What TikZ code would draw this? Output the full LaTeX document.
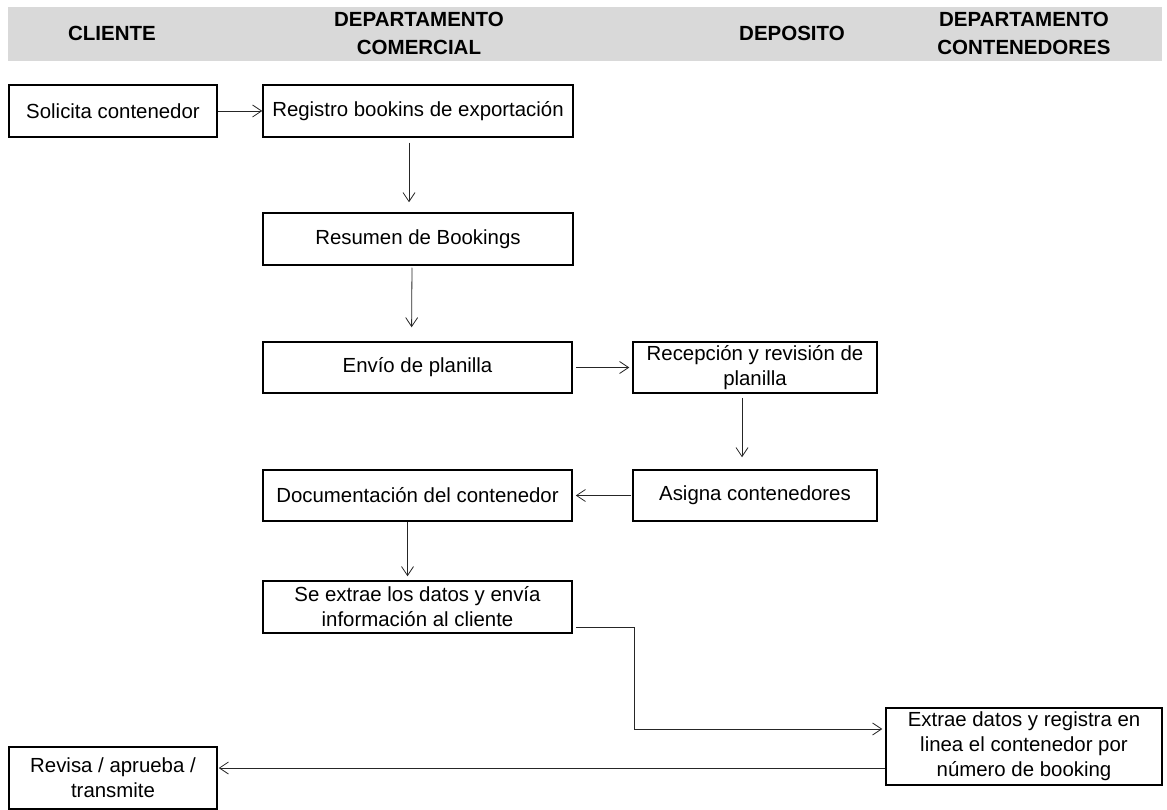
\documentclass[tikz,border=0pt]{standalone}
\usepackage{fontspec}
\setmainfont{Liberation Sans}
\usetikzlibrary{arrows.meta}
\definecolor{bandgray}{HTML}{D9D9D9}
\begin{document}
\begin{tikzpicture}[x=1pt,y=-1pt,
  box/.style={draw=black, line width=1.5pt, rectangle, inner sep=0pt,
    align=center, font=\fontsize{20.4}{25}\selectfont},
  head/.style={align=center, font=\fontsize{20.5}{28}\selectfont\bfseries},
  arr/.style={draw=black!85, line width=0.8pt,
    -{Straight Barb[length=9pt,width=12pt,line width=0.8pt]}},
]
\useasboundingbox (0,0) rectangle (1167,810);

% header band with the lane titles
\fill[bandgray] (8,7) rectangle (1162,61);
\node[head] (hcli) at (112,33) {CLIENTE};
\node[head] (hcom) at (419,33) {DEPARTAMENTO\\COMERCIAL};
\node[head] (hdep) at (792,33) {DEPOSITO};
\node[head] (hcon) at (1024,33) {DEPARTAMENTO\\CONTENEDORES};

% process steps
\node[box, minimum width=208pt, minimum height=52pt] (sol) at (113,111) {Solicita contenedor};
\node[box, minimum width=310pt, minimum height=52pt] (reg) at (418,111) {Registro bookins de exportación};
\node[box, minimum width=310pt, minimum height=52pt] (res) at (418,239) {Resumen de Bookings};
\node[box, minimum width=309pt, minimum height=51pt] (env) at (417.5,367.5) {Envío de planilla};
\node[box, minimum width=244pt, minimum height=51pt] (rec) at (755,367.5) {Recepción y revisión de\\planilla};
\node[box, minimum width=244pt, minimum height=51pt] (asi) at (755,495.5) {Asigna contenedores};
\node[box, minimum width=309pt, minimum height=51pt] (doc) at (417.5,495.5) {Documentación del contenedor};
\node[box, minimum width=309pt, minimum height=52pt] (ext) at (417.5,607) {Se extrae los datos y envía\\información al cliente};
\node[box, minimum width=276pt, minimum height=77pt] (reg2) at (1024,746.5) {Extrae datos y registra en\\linea el contenedor por\\número de booking};
\node[box, minimum width=208pt, minimum height=62pt] (rev) at (113,778) {Revisa / aprueba /\\transmite};

% flow
\draw[arr] (sol.east) -- (reg.west);
\draw[arr, shorten <=5pt, shorten >=10pt] ([xshift=-9pt]reg.south) -- ([xshift=-9pt]res.north);
\draw[arr, shorten <=2pt, shorten >=14pt] ([xshift=-6pt]res.south) -- ([xshift=-6pt]env.north);
\draw[arr, shorten <=3pt, shorten >=3pt] (env.east) -- (rec.west);
\draw[arr, shorten <=4pt, shorten >=12pt] ([xshift=-13pt]rec.south) -- ([xshift=-13pt]asi.north);
\draw[arr, shorten <=1pt, shorten >=3pt] (asi.west) -- (doc.east);
\draw[arr, shorten >=4pt] ([xshift=-10pt]doc.south) -- ([xshift=-10pt]ext.north);
\draw[arr, shorten <=3pt, shorten >=3pt] ([yshift=-20pt]ext.east) -- ++(62,0) |- ([yshift=17.5pt]reg2.west);
\draw[arr, shorten >=1pt] ([yshift=-21.5pt]reg2.west) -- ([yshift=10pt]rev.east);
\end{tikzpicture}
\end{document}
